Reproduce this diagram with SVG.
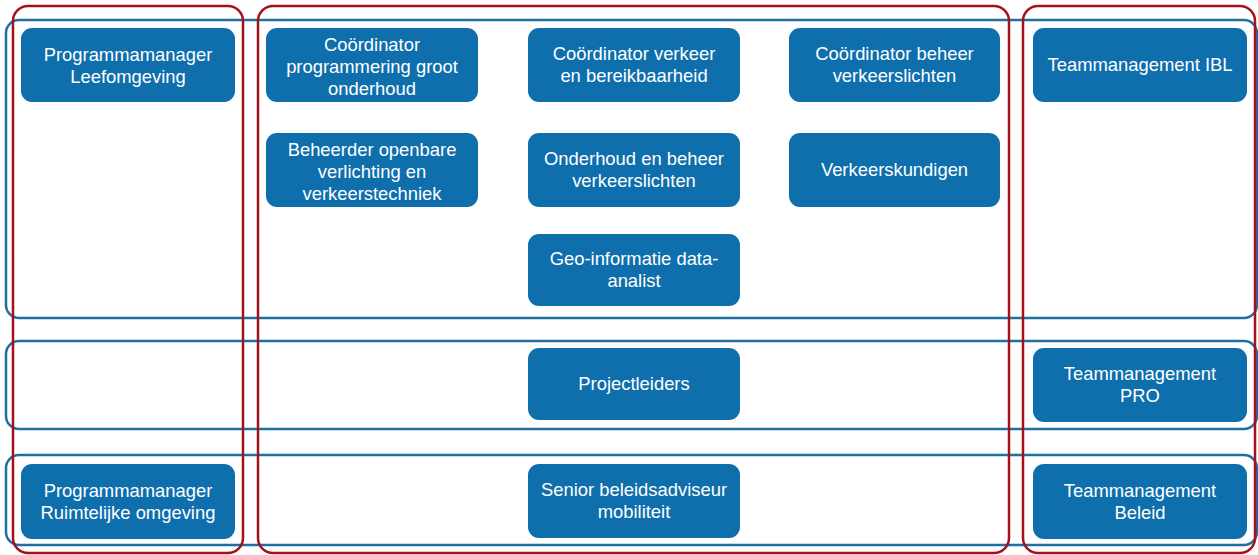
<svg xmlns="http://www.w3.org/2000/svg" width="1258" height="555" viewBox="0 0 1258 555">
<style>
.row{fill:none;stroke:#1f6fa0;stroke-width:2.5}
.col{fill:none;stroke:#a3121b;stroke-width:2.5}
.box{fill:#0f6fad}
.t{font-family:"Liberation Sans",Arial,sans-serif;font-size:18.4px;fill:#ffffff;text-anchor:middle}
</style>
<rect width="1258" height="555" fill="#ffffff"/>
<g id="rows">
<rect class="row" x="6" y="20" width="1251" height="298" rx="13"/>
<rect class="row" x="6" y="341" width="1251" height="88" rx="13"/>
<rect class="row" x="6" y="455" width="1251" height="90" rx="13"/>
</g>
<g id="columns">
<rect class="col" x="13" y="6" width="230" height="547" rx="15"/>
<rect class="col" x="258" y="6" width="751" height="547" rx="15"/>
<rect class="col" x="1023" y="6" width="232" height="547" rx="15"/>
</g>
<g id="connectors"></g>
<g id="n1"><rect class="box" x="21" y="28" width="214" height="74" rx="11"/>
<text class="t" x="128" y="60.5">Programmamanager</text><text class="t" x="128" y="82.5">Leefomgeving</text></g>
<g id="n2"><rect class="box" x="266" y="28" width="212" height="74" rx="11"/>
<text class="t" x="372" y="50.5">Coördinator</text><text class="t" x="372" y="72.5">programmering groot</text><text class="t" x="372" y="94.5">onderhoud</text></g>
<g id="n3"><rect class="box" x="528" y="28" width="212" height="74" rx="11"/>
<text class="t" x="634" y="60">Coördinator verkeer</text><text class="t" x="634" y="82">en bereikbaarheid</text></g>
<g id="n4"><rect class="box" x="789" y="28" width="211" height="74" rx="11"/>
<text class="t" x="894.5" y="60">Coördinator beheer</text><text class="t" x="894.5" y="82">verkeerslichten</text></g>
<g id="n5"><rect class="box" x="1033" y="28" width="214" height="74" rx="11"/>
<text class="t" x="1140" y="71">Teammanagement IBL</text></g>
<g id="n6"><rect class="box" x="266" y="133" width="212" height="74" rx="11"/>
<text class="t" x="372" y="155.5">Beheerder openbare</text><text class="t" x="372" y="177.5">verlichting en</text><text class="t" x="372" y="199.5">verkeerstechniek</text></g>
<g id="n7"><rect class="box" x="528" y="133" width="212" height="74" rx="11"/>
<text class="t" x="634" y="165">Onderhoud en beheer</text><text class="t" x="634" y="187">verkeerslichten</text></g>
<g id="n8"><rect class="box" x="789" y="133" width="211" height="74" rx="11"/>
<text class="t" x="894.5" y="176">Verkeerskundigen</text></g>
<g id="n9"><rect class="box" x="528" y="234" width="212" height="72" rx="11"/>
<text class="t" x="634" y="265">Geo-informatie data-</text><text class="t" x="634" y="287">analist</text></g>
<g id="n10"><rect class="box" x="528" y="348" width="212" height="72" rx="11"/>
<text class="t" x="634" y="390">Projectleiders</text></g>
<g id="n11"><rect class="box" x="1033" y="348" width="214" height="74" rx="11"/>
<text class="t" x="1140" y="380">Teammanagement</text><text class="t" x="1140" y="402">PRO</text></g>
<g id="n12"><rect class="box" x="21" y="464" width="214" height="75" rx="11"/>
<text class="t" x="128" y="496.5">Programmamanager</text><text class="t" x="128" y="518.5">Ruimtelijke omgeving</text></g>
<g id="n13"><rect class="box" x="528" y="464" width="212" height="74" rx="11"/>
<text class="t" x="634" y="496">Senior beleidsadviseur</text><text class="t" x="634" y="518">mobiliteit</text></g>
<g id="n14"><rect class="box" x="1033" y="464" width="214" height="75" rx="11"/>
<text class="t" x="1140" y="496.5">Teammanagement</text><text class="t" x="1140" y="518.5">Beleid</text></g>
</svg>
